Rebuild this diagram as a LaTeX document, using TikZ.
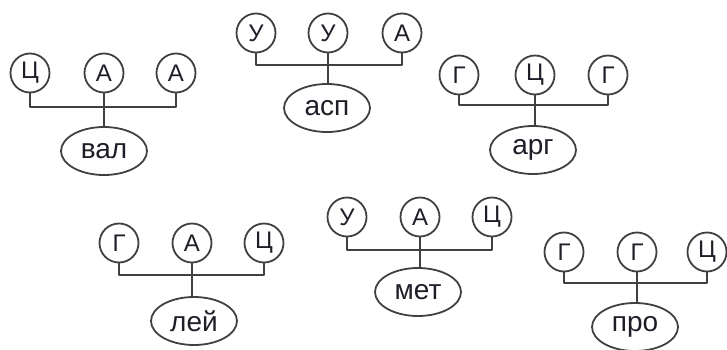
\documentclass[tikz,border=0pt]{standalone}
\usepackage{fontspec}
\setmainfont{Liberation Sans}
\usetikzlibrary{shapes.geometric}
\definecolor{linegray}{HTML}{404040}
\definecolor{txt}{HTML}{1E1E28}
\tikzset{
  base/.style={circle,draw=linegray,line width=1.8pt,minimum size=39pt,inner sep=0pt,text=txt,font=\fontsize{24}{26}\selectfont},
  amino/.style={ellipse,draw=linegray,line width=1.8pt,minimum width=86pt,minimum height=48pt,inner sep=0pt,text=txt,font=\fontsize{28}{30}\selectfont},
  link/.style={draw=linegray,line width=1.8pt,line join=round}
}
\begin{document}
\begin{tikzpicture}[x=1pt,y=-1pt]
\useasboundingbox (0,0) rectangle (727,350);
\clip (0,0) rectangle (727,350);
% group 1
\node[base] (a1) at (30,73) {Ц};
\node[base] (a2) at (104,73) {А};
\node[base] (a3) at (176,73) {А};
\coordinate (ab) at (104,107);
\node[amino] (ae) at (104,151) {вал};
\draw[link] (a1.south) -- (a1.south |- ab) -- (a3.south |- ab) -- (a3.south);
\draw[link] (a2.south) -- (a2.south |- ae.north);
% group 2
\node[base] (b1) at (256,33) {У};
\node[base] (b2) at (328,33) {У};
\node[base] (b3) at (402,33) {А};
\coordinate (bb) at (328,65);
\node[amino] (be) at (327,108) {асп};
\draw[link] (b1.south) -- (b1.south |- bb) -- (b3.south |- bb) -- (b3.south);
\draw[link] (b2.south) -- (b2.south |- be.north);
% group 3
\node[base] (c1) at (459,75) {Г};
\node[base] (c2) at (535,75) {Ц};
\node[base] (c3) at (608,75) {Г};
\coordinate (cb) at (535,105);
\node[amino] (ce) at (533,150) {арг};
\draw[link] (c1.south) -- (c1.south |- cb) -- (c3.south |- cb) -- (c3.south);
\draw[link] (c2.south) -- (c2.south |- ce.north);
% group 4
\node[base] (d1) at (119,243) {Г};
\node[base] (d2) at (192,243) {А};
\node[base] (d3) at (264,243) {Ц};
\coordinate (db) at (192,275);
\node[amino] (de) at (194,321) {лей};
\draw[link] (d1.south) -- (d1.south |- db) -- (d3.south |- db) -- (d3.south);
\draw[link] (d2.south) -- (d2.south |- de.north);
% group 5
\node[base] (e1) at (347,217) {У};
\node[base] (e2) at (420,217) {А};
\node[base] (e3) at (492,217) {Ц};
\coordinate (eb) at (420,250);
\node[amino] (ee) at (418,292) {мет};
\draw[link] (e1.south) -- (e1.south |- eb) -- (e3.south |- eb) -- (e3.south);
\draw[link] (e2.south) -- (e2.south |- ee.north);
% group 6
\node[base] (f1) at (564,252) {Г};
\node[base] (f2) at (637,252) {Г};
\node[base] (f3) at (707,252) {Ц};
\coordinate (fb) at (637,283);
\node[amino] (fe) at (635,327) {про};
\draw[link] (f1.south) -- (f1.south |- fb) -- (f3.south |- fb) -- (f3.south);
\draw[link] (f2.south) -- (f2.south |- fe.north);
\end{tikzpicture}
\end{document}
